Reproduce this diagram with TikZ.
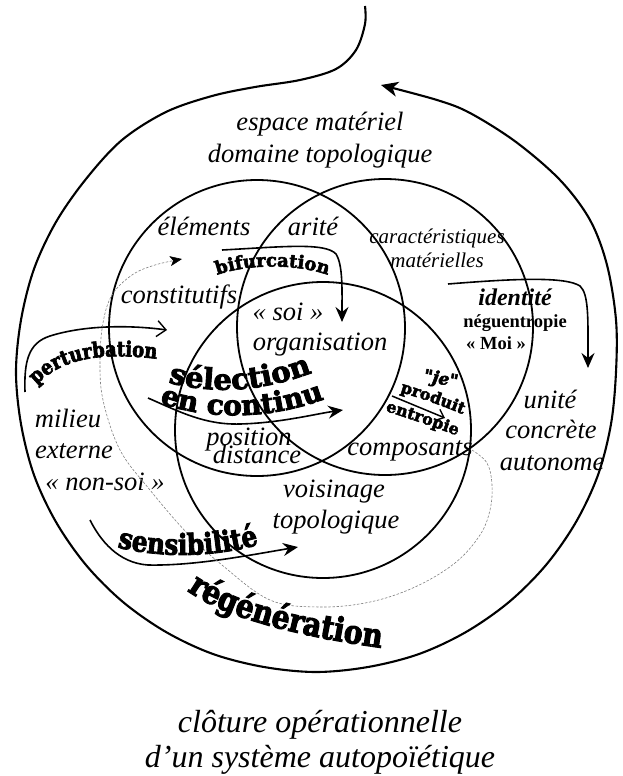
\documentclass[tikz,border=0pt]{standalone}
\usepackage{fontspec}
\setmainfont{Liberation Serif}
\newfontfamily\artfont{DejaVu Serif}[FakeBold=3]
\newfontfamily\artnarrow{DejaVu Serif}[FakeBold=3, FakeStretch=0.85]
\usetikzlibrary{arrows.meta,decorations.text}

\tikzset{
  lbl/.style={font=\itshape\fontsize{26.5}{30}\selectfont, inner sep=0pt, anchor=base},
  lblsmall/.style={font=\itshape\fontsize{21}{24}\selectfont, inner sep=0pt, anchor=base},
  lblbold/.style={font=\bfseries\fontsize{18.5}{22}\selectfont, inner sep=0pt, anchor=base},
  caption/.style={font=\itshape\fontsize{32}{36}\selectfont, inner sep=0pt, anchor=base},
  ring/.style={line width=1.8pt},
  closure/.style={line width=2.1pt, line join=round},
  flow/.style={line width=1.6pt, -{Stealth[length=15pt,width=13pt,inset=5pt]}},
  openflow/.style={line width=1.6pt, -{Straight Barb[length=9pt,width=16pt,line width=1.4pt]}},
  trace/.style={gray, line width=0.6pt, dash pattern=on 2.5pt off 1.6pt,
    -{Stealth[length=12pt,width=10pt,inset=3pt,black]}},
  wordart/.style 2 args={decorate, decoration={text along path, text align=center,
      text={|\artfont\bfseries\fontsize{#1}{#1}\selectfont|#2}}},
  tallart/.style 2 args={decorate, decoration={text along path, text align=center,
      text={|\artnarrow\bfseries\fontsize{#1}{#1}\selectfont|#2}}},
}

\begin{document}
\begin{tikzpicture}[x=1pt,y=-1pt]
\useasboundingbox (0,0) rectangle (622,776);

% operational closure: open loop ending in an arrow
\draw[closure, -{Stealth[length=17pt,width=15pt,inset=5pt]}]
  plot[smooth, tension=0.55] coordinates {
    (365,6) (365,24) (356,50) (336,69) (300,80) (255,87) (212,96) (166,112)
    (122,140) (86,179) (56,222) (34,269) (21,320) (16,372) (21,424) (34,475)
    (56,522) (86,565) (123,602) (166,632) (213,654) (264,667) (316,672)
    (368,667) (419,654) (466,632) (509,602) (546,565) (576,522) (598,475)
    (611,424) (616,372) (616,320) (607,265) (590,220) (560,180) (516,142)
    (470,113) (437,100) (381,85)};

% the three sets
\draw[ring] (257,328) circle[radius=148];
\draw[ring] (385,327) circle[radius=148];
\draw[ring] (323,430) circle[radius=148];

% labels
\node[lbl] (espace) at (320,130) {espace matériel};
\node[lbl] (domaine) at (320,162) {domaine topologique};
\node[lbl] (elements) at (204,235) {éléments};
\node[lbl] (arite) at (313,235) {arité};
\node[lblsmall] (caract) at (437,243) {caractéristiques};
\node[lblsmall] (mater) at (437,267) {matérielles};
\node[lbl] (constit) at (179,303) {constitutifs};
\node[lbl] (soi) at (288,320) {« soi »};
\node[lbl] (organ) at (320,350) {organisation};
\node[font=\bfseries\itshape\fontsize{24}{26}\selectfont, inner sep=0pt, anchor=base] (ident) at (515,305) {identité};
\node[lblbold] (negu) at (515,327) {néguentropie};
\node[lblbold] (moi) at (496,349) {« Moi »};
\node[lbl] (unite) at (550,408) {unité};
\node[lbl] (concrete) at (551,438) {concrète};
\node[lbl] (autonome) at (552,470) {autonome};
\node[lbl] (milieu) at (68,427) {milieu};
\node[lbl] (externe) at (74,458) {externe};
\node[lbl] (nonsoi) at (105,490) {« non-soi »};
\node[lbl] (position) at (249,445) {position};
\node[lbl] (distance) at (257,463) {distance};
\node[lbl] (composants) at (410,455) {composants};
\node[lbl] (voisinage) at (334,497) {voisinage};
\node[lbl] (topo) at (336,528) {topologique};
\node[caption] (cloture) at (320,732) {clôture opérationnelle};
\node[caption] (autopo) at (320,767) {d’un système autopoïétique};

% arrow end points
\coordinate (bifS) at (222,250);  \coordinate (bifE) at (342,322);
\coordinate (idS) at (448,284);   \coordinate (idE) at (588,368);
\coordinate (perS) at (25,392);   \coordinate (perE) at (167,330);
\coordinate (selS) at (148,398);  \coordinate (selE) at (343,410);
\coordinate (senS) at (90,520);   \coordinate (senE) at (298,547);
\coordinate (jeS) at (392,396);   \coordinate (jeE) at (445,418);
\coordinate (trS) at (472,450);   \coordinate (trE) at (182,259);

% process arrows
\draw[flow] (bifS) .. controls (280,247) and (325,242) .. (336,254)
            .. controls (343,265) and (342,290) .. (bifE);
\draw[flow] (idS) .. controls (510,279) and (565,276) .. (580,286)
            .. controls (589,294) and (588,320) .. (idE);
\draw[openflow] (perS) .. controls (24,362) and (28,343) .. (50,336)
            .. controls (85,325) and (130,325) .. (perE);
\draw[flow] (selS) .. controls (180,412) and (205,425) .. (240,424)
            .. controls (280,423) and (315,414) .. (selE);
\draw[flow] (senS) .. controls (100,540) and (118,563) .. (148,565)
            .. controls (195,566) and (250,555) .. (senE);
\draw[line width=1.5pt, -{Straight Barb[length=7pt,width=12pt,line width=1.4pt]}] (jeS) -- (jeE);

% dashed trace from the components back to the elements
\draw[trace] plot[smooth, tension=0.6] coordinates {
  (trS) (487,463) (492,485) (490,510) (480,535) (455,563) (415,587) (370,602)
  (320,607) (270,600) (222,565) (187,533) (150,490) (120,450) (103,400)
  (100,360) (103,323) (112,295) (132,275) (155,265) (trE)};

% curved process names
\path[wordart={18}{bifurcation}] (205,280) .. controls (240,262) and (305,262) .. (340,280);
\path[tallart={21}{perturbation}] (30,392) .. controls (56,360) and (95,350) .. (166,360);
\path[wordart={29}{sélection}] (156,379) .. controls (200,393) and (255,397) .. (324,368);
\path[wordart={28}{en continu}] (152,400) .. controls (200,420) and (270,422) .. (332,396);
\path[tallart={29}{sensibilité}] (106,544) .. controls (150,558) and (215,560) .. (270,541);
\path[tallart={33}{régénération}] (180,585) .. controls (213,614) and (290,636) .. (390,649);
\path[wordart={16}{produit}] (386,388) .. controls (415,396) and (445,406) .. (476,420);
\path[wordart={16}{entropie}] (376,408) .. controls (402,416) and (435,427) .. (466,439);
\node[font=\artfont\bfseries\itshape\fontsize{17}{17}\selectfont, inner sep=0pt, anchor=base, rotate=-10] (je) at (440,384) {"je"};

\end{tikzpicture}
\end{document}
